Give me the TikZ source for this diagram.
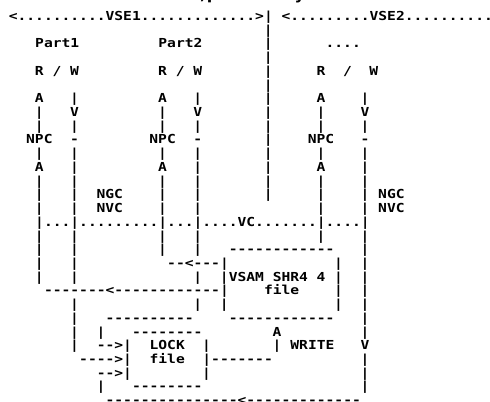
\documentclass[tikz,border=0pt]{standalone}
\usepackage{fontspec}
\newfontfamily\asciifont[FakeStretch=1.179]{DejaVu Sans Mono Bold}
\newfontfamily\titlefont{DejaVu Sans Bold}

\begin{document}
\begin{tikzpicture}[x=8.8pt, y=13.72pt,
  ch/.style={font=\asciifont\fontsize{12.4pt}{14pt}\selectfont,
    inner sep=0pt, anchor=base, yshift=-4.5pt},
  run/.style={ch, anchor=base west, xshift=-4.4pt},
  ttl/.style={font=\titlefont\fontsize{16pt}{18pt}\selectfont,
    inner sep=0pt, anchor=base}]
\useasboundingbox[fill=white] (-1.477,1.166) rectangle (54.2,-28.06);
% ----- title line, cut off at the top -----
\node[ttl] (ttlcomma) at (21.6,1.166) {,};
\node[ttl, anchor=base west] (ttlp) at (22.0,1.166) {p};
\node[ttl] (ttly) at (32.6,1.166) {y};
% ----- the two VSEs -----
\node[run] (vse1) at (0,0) {<..........VSE1.............>|};
\node[run] (vse2) at (31,0) {<.........VSE2..........};
\foreach \r in {1,...,13}
  \node[ch] (sep-\r) at (29,-\r) {|};
\node[run] (part1) at (3,-2) {Part1};
\node[run] (part2) at (17,-2) {Part2};
\node[run] (partn) at (36,-2) {....};
% ----- R / W paths -----
\foreach \c in {3,17,35}{
  \node[ch] (r-\c) at (\c,-4) {R};
  \node[ch] (a-\c) at (\c,-6) {A};
  \node[ch] (npc-\c) at (\c,-9) {NPC};
  \node[ch] (aa-\c) at (\c,-11) {A};
}
\foreach \c in {5,19,38}
  \node[ch] (sl-\c) at (\c,-4) {/};
\foreach \c in {7,21,41}
  \node[ch] (w-\c) at (\c,-4) {W};
\foreach \c in {7,21,40}{
  \node[ch] (v-\c) at (\c,-7) {V};
  \node[ch] (m-\c) at (\c,-9) {-};
}
\foreach \r in {7,8,10,12,13,14,16,17,18,19}
  \node[ch] (b3-\r) at (3,-\r) {|};
\foreach \r in {6,8,10,11,12,13,14,16,17,18,19,21,22,23,24}
  \node[ch] (b7-\r) at (7,-\r) {|};
\foreach \r in {7,8,10,12,13,14,16,17}
  \node[ch] (b17-\r) at (17,-\r) {|};
\foreach \r in {6,8,10,11,12,13,14,16,17,19,21}
  \node[ch] (b21-\r) at (21,-\r) {|};
\foreach \r in {7,8,10,12,13,14,16}
  \node[ch] (b35-\r) at (35,-\r) {|};
\foreach \r in {6,8,10,11,12,13,14,16,17,...,23,25,26,27}
  \node[ch] (b40-\r) at (40,-\r) {|};
\node[ch] (ngc1) at (11,-13) {NGC};
\node[ch] (nvc1) at (11,-14) {NVC};
\node[ch] (ngc2) at (43,-13) {NGC};
\node[ch] (nvc2) at (43,-14) {NVC};
\node[run] (vc) at (3,-15) {|...|.........|...|....VC.......|....|};
% ----- VSAM file -----
\node[run] (vsamtop) at (25,-17) {------------};
\node[run] (readback) at (18,-18) {--<---|};
\foreach \r in {18,...,21}
  \node[ch] (b37-\r) at (37,-\r) {|};
\foreach \r in {19,21}
  \node[ch] (b24-\r) at (24,-\r) {|};
\node[run] (vsam) at (25,-19) {VSAM};
\node[run] (shr) at (30,-19) {SHR4};
\node[ch] (shrn) at (35,-19) {4};
\node[run] (readback2) at (4,-20) {-------<------------|};
\node[run] (vsamfile) at (29,-20) {file};
\node[run] (vsambot) at (25,-22) {------------};
\node[run] (wrpath) at (11,-22) {----------};
% ----- LOCK file -----
\node[run] (locktop) at (14,-23) {--------};
\node[ch] (b10-23) at (10,-23) {|};
\node[run] (wrA) at (10,-24) {-->|};
\node[run] (lock) at (16,-24) {LOCK};
\node[ch] (b22-24) at (22,-24) {|};
\node[run] (wrB) at (8,-25) {---->|};
\node[run] (lockfile) at (16,-25) {file};
\node[run] (lockout) at (22,-25) {|-------};
\node[run] (wrC) at (10,-26) {-->|};
\node[ch] (b22-26) at (22,-26) {|};
\node[ch] (b10-27) at (10,-27) {|};
\node[run] (lockbot) at (14,-27) {--------};
\node[run] (back) at (11,-28) {---------------<-------------};
% ----- write into VSAM -----
\node[ch] (wa) at (30,-23) {A};
\node[ch] (b30-24) at (30,-24) {|};
\node[run] (write) at (32,-24) {WRITE};
\node[ch] (v40) at (40,-24) {V};
\end{tikzpicture}
\end{document}
